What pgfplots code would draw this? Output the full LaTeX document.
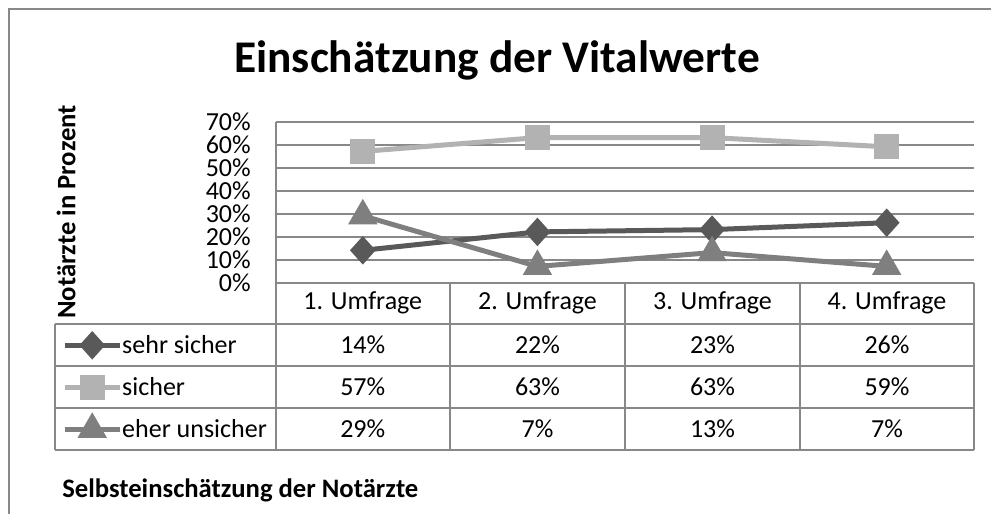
\documentclass[border=0pt]{standalone}
\usepackage{fontspec}
\setmainfont{Carlito}
\usepackage{pgfplots}
\pgfplotsset{compat=1.18}

\definecolor{sehrsicher}{HTML}{595959}
\definecolor{sicher}{HTML}{B2B2B2}
\definecolor{unsicher}{HTML}{7F7F7F}
\definecolor{gridgray}{HTML}{888888}

\newcommand{\tabfont}{\fontsize{19.5}{22}\selectfont}

\begin{document}
\begin{tikzpicture}
% page = 991 x 514 px, 1px = 0.75pt
\useasboundingbox (0,0) rectangle (743.25pt,-385.5pt);
\begin{axis}[
  at={(206.625pt,-211.875pt)}, anchor=south west,
  scale only axis, width=523.875pt, height=120.75pt,
  xmin=0.5, xmax=4.5, ymin=0, ymax=70,
  axis x line=none, axis y line=left,
  axis line style={-, draw=gridgray, line width=1.5pt},
  ytick={0,10,...,70}, ymajorgrids,
  grid style={draw=gridgray, line width=1.5pt},
  major tick length=0pt,
  /pgf/number format/assume math mode=true,
  yticklabel={\pgfmathprintnumber{\tick}\%},
  yticklabel style={font=\tabfont, anchor=east, inner sep=0pt, xshift=-18.4pt},
  clip=false,
  legend style={at={(-0.3057,-0.2578)}, anchor=north west, draw=none, fill=none,
    inner sep=0pt, row sep=0pt, column sep=0pt, font=\tabfont,
    nodes={inner sep=0pt, minimum height=31.5pt, anchor=west}},
  legend cell align=left,
  legend image code/.code={\draw[mark repeat=2, mark phase=2, #1]
    plot coordinates {(0pt,0pt) (20.625pt,0pt) (41.25pt,0pt)};},
]
\addplot[sehrsicher, line width=3.75pt, mark=diamond*, mark size=7.9pt,
  mark options={solid, xscale=1.2, draw=none, fill=sehrsicher}]
  coordinates {(1,14) (2,22) (3,23) (4,26)};
\addplot[sicher, line width=3.75pt, mark=square*, mark size=7.5pt,
  mark options={solid, draw=none, fill=sicher}]
  coordinates {(1,57) (2,63) (3,63) (4,59)};
\addplot[unsicher, line width=3.75pt, mark=triangle*, mark size=9pt,
  mark options={solid, draw=none, fill=unsicher}]
  coordinates {(1,29) (2,7) (3,13) (4,7)};
\legend{sehr sicher, sicher, eher unsicher}
\end{axis}

\begin{scope}[x=0.75pt, y=-0.75pt]
  % outer chart frame
  \draw[gridgray, line width=1.5pt] (9,514) -- (9,9) -- (991,9);
  % title and labels
  \node[anchor=base, font=\fontsize{34}{40}\selectfont\bfseries] at (497,72)
    {Einschätzung der Vitalwerte};
  \node[rotate=90, font=\fontsize{20}{24}\selectfont\bfseries] at (66,212)
    {Notärzte in Prozent};
  \node[anchor=west, inner sep=0pt, font=\fontsize{20}{24}\selectfont\bfseries]
    at (62,490) {Selbsteinschätzung der Notärzte};
  % data table grid
  \draw[gridgray, line width=1.5pt]
    (55,324) -- (974,324) (55,366) -- (974,366)
    (55,408) -- (974,408) (55,450) -- (974,450)
    (55,324) -- (55,450) (275.5,282.5) -- (275.5,450)
    (450,282.5) -- (450,450) (625,282.5) -- (625,450)
    (800,282.5) -- (800,450) (974,282.5) -- (974,450);
  \begin{scope}[font=\tabfont]
    \node at (362.75,303) {1. Umfrage};
    \node at (537.5,303) {2. Umfrage};
    \node at (712.5,303) {3. Umfrage};
    \node at (887,303) {4. Umfrage};
    \node at (362.75,345) {14\%}; \node at (537.5,345) {22\%};
    \node at (712.5,345) {23\%};  \node at (887,345) {26\%};
    \node at (362.75,387) {57\%}; \node at (537.5,387) {63\%};
    \node at (712.5,387) {63\%};  \node at (887,387) {59\%};
    \node at (362.75,429) {29\%}; \node at (537.5,429) {7\%};
    \node at (712.5,429) {13\%};  \node at (887,429) {7\%};
  \end{scope}
\end{scope}
\end{tikzpicture}
\end{document}
